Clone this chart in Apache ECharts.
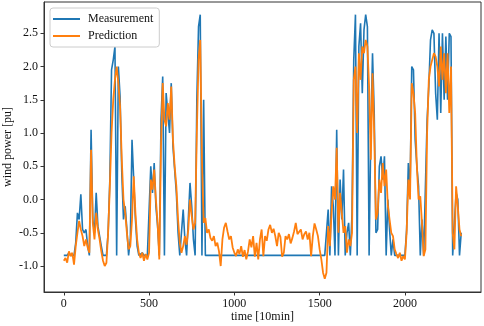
<!DOCTYPE html>
<html>
<head>
<meta charset="utf-8">
<script src="https://cdn.jsdelivr.net/npm/echarts@6/dist/echarts.min.js"></script>
<style>
  html, body { margin: 0; padding: 0; background: #fff; }
  #chart_id { width: 484px; height: 326px; }
</style>
</head>
<body>
<div id="chart_id"></div>
<script>
// sampled every 10 steps (time unit = 10min)
var timeStep = 10;

var measurement = [
  -0.84,-0.84,-0.84,-0.8,-0.84,-0.82,-0.84,-0.65,-0.2,-0.3,
  0.08,-0.45,-0.5,-0.45,-0.7,-0.84,1.05,-0.3,-0.5,0.1,
  -0.4,-0.55,-0.7,-0.84,-0.84,-0.84,-0.5,0.3,1.95,2.1,
  2.3,-0.84,2.0,1.55,0.4,-0.3,-0.1,-0.45,-0.84,-0.6,
  0.9,0.3,-0.3,-0.7,-0.84,-0.84,-0.8,-0.84,-0.84,-0.84,
  -0.84,0.5,0.1,0.55,-0.1,-0.4,-0.84,1.2,1.85,-0.84,
  1.6,1.3,1.0,1.75,0.8,0.45,0.1,-0.5,-0.84,-0.84,
  -0.15,-0.6,-0.84,-0.3,0.25,-0.1,-0.6,-0.84,1.5,2.6,
  2.78,-0.84,1.5,-0.84,-0.84,-0.84,-0.84,-0.84,-0.84,-0.84,
  -0.84,-0.84,-0.84,-0.84,-0.84,-0.84,-0.84,-0.84,-0.84,-0.84,
  -0.84,-0.84,-0.84,-0.84,-0.84,-0.84,-0.84,-0.84,-0.84,-0.84,
  -0.84,-0.84,-0.84,-0.84,-0.84,-0.84,-0.84,-0.84,-0.84,-0.84,
  -0.84,-0.84,-0.84,-0.84,-0.84,-0.84,-0.84,-0.84,-0.84,-0.84,
  -0.84,-0.84,-0.84,-0.84,-0.84,-0.84,-0.84,-0.84,-0.84,-0.84,
  -0.84,-0.84,-0.84,-0.84,-0.84,-0.84,-0.84,-0.84,-0.84,-0.84,
  -0.84,-0.84,-0.84,-0.84,-0.84,-0.15,-0.84,0.2,-0.1,-0.84,
  1.05,-0.84,0.3,-0.3,0.45,-0.84,-0.5,-0.35,-0.84,-0.2,
  2.1,2.78,-0.84,2.3,2.65,1.6,2.55,2.78,2.6,-0.84,
  1.0,2.2,1.3,-0.5,-0.45,0.5,0.65,0.3,0.65,-0.84,
  0.0,-0.45,-0.84,-0.6,-0.84,-0.84,-0.84,-0.84,-0.84,-0.84,
  -0.84,-0.45,0.55,0.1,2.0,1.95,0.9,0.5,0.2,-0.84,
  -0.3,-0.84,-0.84,1.2,1.7,2.4,2.55,2.5,1.6,1.2,
  2.5,1.3,2.5,1.5,2.45,1.5,2.5,2.45,-0.84,-0.84,
  0.1,0.0,-0.84,-0.5
];

var prediction = [
  -0.92,-0.88,-0.95,-0.78,-0.85,-0.8,-0.98,-0.7,-0.5,-0.32,
  -0.45,-0.55,-0.7,-0.6,-0.72,-0.8,0.75,-0.35,-0.6,-0.2,
  -0.45,-0.6,-0.78,-0.92,-1.0,-0.95,-0.5,0.2,1.0,1.5,
  1.8,2.0,1.75,1.4,0.6,0.0,-0.2,-0.5,-0.75,-0.7,
  -0.3,0.35,-0.2,-0.6,-0.8,-0.88,-0.8,-0.92,-0.82,-0.9,
  -0.8,0.3,0.15,0.45,0.0,-0.35,-0.9,0.8,1.75,1.2,
  1.1,1.45,1.2,1.7,0.9,0.5,0.2,-0.3,-0.65,-0.8,
  -0.7,-0.55,-0.68,-0.45,0.0,-0.25,-0.45,-0.35,1.0,2.1,
  2.4,0.6,-0.35,-0.28,-0.5,-0.45,-0.58,-0.62,-0.55,-0.7,
  -0.65,-0.78,-1.0,-0.6,-0.42,-0.35,-0.48,-0.6,-0.55,-0.72,
  -0.8,-0.85,-0.75,-0.82,-0.7,-0.86,-0.76,-0.9,-0.78,-0.6,
  -0.72,-0.55,-0.86,-0.65,-0.9,-0.6,-0.45,-0.85,-0.55,-0.62,
  -0.45,-0.38,-0.5,-0.44,-0.55,-0.7,-0.5,-0.56,-0.86,-0.8,
  -0.55,-0.6,-0.52,-0.66,-0.58,-0.48,-0.35,-0.52,-0.55,-0.45,
  -0.6,-0.52,-0.48,-0.6,-0.5,-0.85,-0.55,-0.36,-0.45,-0.55,
  -0.75,-0.9,-1.1,-1.19,-1.1,-0.4,-0.7,-0.2,0.2,0.0,
  0.78,-0.5,0.1,-0.2,-0.5,-0.4,-0.8,-0.6,-0.7,-0.5,
  1.8,2.0,1.0,2.2,1.8,2.3,2.2,2.4,2.3,1.7,
  0.6,1.9,1.0,-0.3,-0.2,0.3,0.1,0.55,0.2,0.45,
  -0.1,-0.3,-0.5,-0.55,-0.75,-0.82,-0.88,-0.8,-0.92,-0.85,
  -0.9,-0.5,0.3,0.0,1.75,1.6,1.3,0.5,0.0,0.05,
  -0.35,-0.85,-0.75,1.0,1.8,2.0,2.1,2.2,2.15,2.0,
  1.7,2.3,1.8,2.2,1.6,2.2,1.3,2.0,-0.5,-0.75,
  0.2,-0.1,-0.45,-0.55
];

var xTicks = [0, 500, 1000, 1500, 2000];
var yTicks = [-1.0, -0.5, 0.0, 0.5, 1.0, 1.5, 2.0, 2.5];

function pairs(arr) {
  return arr.map(function (v, i) { return [i * timeStep, v]; });
}

var chart = echarts.init(document.getElementById('chart_id'));
var font = 'Liberation Serif';
var option = {
  animation: false,
  color: ['#1f77b4', '#ff7f0e'],
  grid: {
    left: 44, right: 3, top: 2, bottom: 34,
    outerBoundsMode: 'none',
    containLabel: false,
    show: true, borderColor: '#333', borderWidth: 1
  },
  legend: {
    orient: 'vertical',
    left: 50, top: 8,
    padding: [5, 6, 5, 3],
    itemGap: 5,
    itemWidth: 27, itemHeight: 2,
    icon: 'rect',
    backgroundColor: '#fff',
    borderColor: '#ccc', borderWidth: 1, borderRadius: 3,
    textStyle: { fontFamily: font, fontSize: 12, color: '#111', padding: [0, 0, 0, 3] },
    data: ['Measurement', 'Prediction']
  },
  xAxis: {
    type: 'value',
    min: -116, max: 2446,
    name: 'time [10min]',
    nameLocation: 'middle',
    nameGap: 19,
    nameMoveOverlap: false,
    nameTextStyle: { fontFamily: font, fontSize: 12, color: '#111' },
    axisLine: { show: true, onZero: false, lineStyle: { color: '#333' } },
    axisTick: { show: true, length: 3.5, lineStyle: { color: '#333' }, customValues: xTicks },
    axisLabel: {
      fontFamily: font, fontSize: 12, color: '#111', margin: 6,
      customValues: xTicks,
      formatter: function (v) { return String(v); }
    },
    splitLine: { show: false }
  },
  yAxis: {
    type: 'value',
    min: -1.39, max: 2.97,
    name: 'wind power [pu]',
    nameLocation: 'middle',
    nameRotate: 90,
    nameGap: 30,
    nameMoveOverlap: false,
    nameTextStyle: { fontFamily: font, fontSize: 12, color: '#111' },
    axisLine: { show: true, onZero: false, lineStyle: { color: '#333' } },
    axisTick: { show: true, length: 3.5, lineStyle: { color: '#333' }, customValues: yTicks },
    axisLabel: {
      fontFamily: font, fontSize: 12, color: '#111', margin: 6,
      customValues: yTicks,
      formatter: function (v) { return v.toFixed(1); }
    },
    splitLine: { show: false }
  },
  series: [
    {
      name: 'Measurement', type: 'line', symbol: 'none',
      lineStyle: { width: 1.6 },
      data: pairs(measurement)
    },
    {
      name: 'Prediction', type: 'line', symbol: 'none',
      lineStyle: { width: 1.8 },
      data: pairs(prediction)
    }
  ]
};
chart.setOption(option);
</script>
</body>
</html>
